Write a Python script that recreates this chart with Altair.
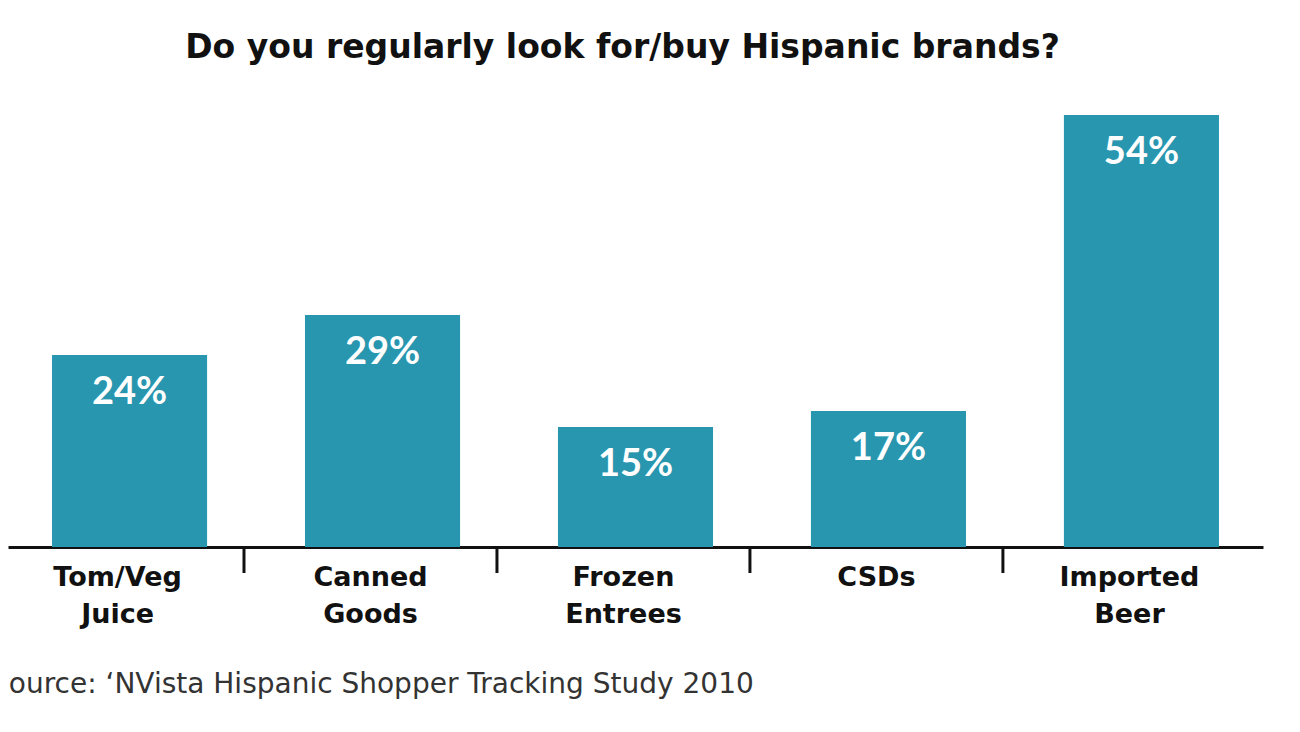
import altair as alt
import pandas as pd

categories = ["Tom/Veg Juice", "Canned Goods", "Frozen Entrees", "CSDs", "Imported Beer"]
values = [24, 29, 15, 17, 54]
title_text = "Do you regularly look for/buy Hispanic brands?"
source_text = "Source: \u2018NVista Hispanic Shopper Tracking Study 2010"

df = pd.DataFrame({"cat": categories, "value": values})
df["label"] = [f"{v}%" for v in values]

W, H = 1255, 452
BAR = "#2996b0"
FONT = "DejaVu Sans"
PFONT = "Lato"

xenc = alt.X(
    "cat:N",
    sort=categories,
    scale=alt.Scale(paddingInner=0.387, paddingOuter=0.174),
    axis=alt.Axis(
        title=None,
        labelAngle=0,
        ticks=False,
        domainColor="#111111",
        domainWidth=3,
        labelExpr="split(datum.label, ' ')",
        labelFont=FONT,
        labelFontSize=27,
        labelFontWeight="bold",
        labelColor="#111111",
        labelLineHeight=37,
        labelPadding=17,
        labelBaseline="top",
        labelOffset=-12,
    ),
)
yenc = alt.Y("value:Q", scale=alt.Scale(domain=[0, 56.5], nice=False), axis=None)

base = alt.Chart(df)
bars = base.mark_bar(color=BAR).encode(x=xenc, y=yenc)
labels = base.mark_text(
    color="white", font=PFONT, fontWeight="bold", fontSize=38, baseline="middle", dy=38
).encode(x=alt.X("cat:N", sort=categories), y=alt.Y("value:Q"), text="label:N")

ticks = base.transform_filter(alt.datum.cat != categories[0]).mark_rule(
    color="#111111", strokeWidth=3, xOffset=-61
).encode(
    x=alt.X("cat:N", sort=categories, bandPosition=0),
    y=alt.value(H),
    y2=alt.value(H + 26),
)

src = alt.Chart(pd.DataFrame({"t": [source_text]})).mark_text(
    align="left", baseline="middle", font=FONT, fontSize=28, color="#333333"
).encode(x=alt.value(-17), y=alt.value(H + 138), text="t:N")

chart = alt.layer(bars, labels, ticks, src).properties(
    width=W,
    height=H,
    autosize=alt.AutoSizeParams(type="none"),
    padding={"left": 0, "top": 87, "right": 10, "bottom": 170},
    title=alt.TitleParams(
        title_text, font=FONT, fontSize=33, fontWeight="bold", color="#111111",
        anchor="middle", offset=30, dx=-13,
    ),
).configure(background="white").configure_view(strokeWidth=0)

chart.save("out.html", embed_options={"renderer": "svg", "actions": False})
